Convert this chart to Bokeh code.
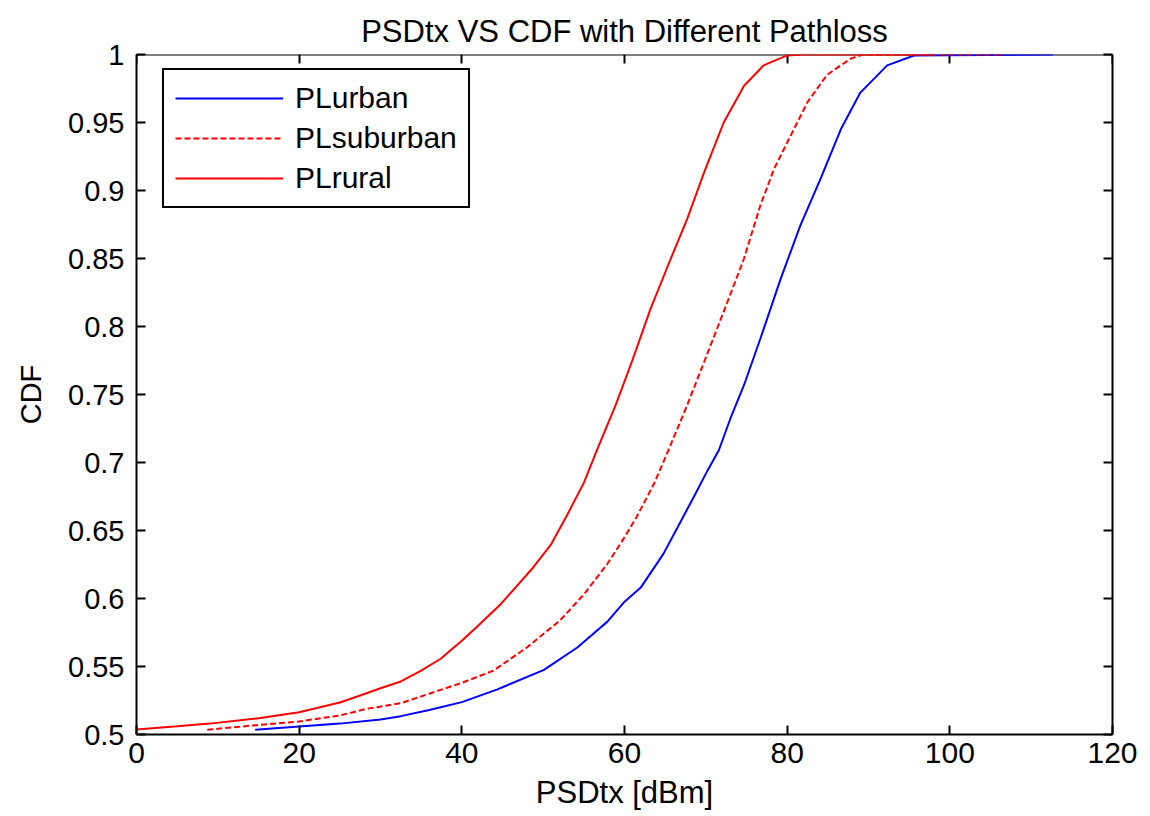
from bokeh.plotting import figure
from bokeh.models import Range1d, LinearAxis, FixedTicker, Legend, LegendItem, CustomJSTickFormatter
from bokeh.embed import file_html
from bokeh.resources import INLINE

# ---- data ----
urban_x = [14.6, 20, 25, 30, 32.5, 36, 40, 44.3, 50.1, 54.2, 57.9, 59.9, 62, 64.8, 66.5, 68.5,
           70.2, 71.6, 73.0, 74.7, 76.7, 79.2, 81.6, 84.1, 86.6, 89.0, 92.3, 95.6, 112.7]
urban_y = [0.5035, 0.5059, 0.508, 0.511, 0.5135, 0.518, 0.5238, 0.533, 0.5475, 0.564, 0.583, 0.597,
           0.608, 0.633, 0.652, 0.6745, 0.694, 0.709, 0.732, 0.757, 0.791, 0.835, 0.874, 0.9085,
           0.945, 0.972, 0.992, 0.9993, 1.0]

suburban_x = [8.7, 15, 20, 25, 28.4, 32.5, 36, 40, 43.9, 48, 52.1, 55, 57.9, 59.9, 61.5, 63.6, 65.4,
              67.7, 69.8, 72.2, 74.7, 76.7, 78.4, 80.4, 82.5, 84.9, 87.8, 89.4, 106.6]
suburban_y = [0.5035, 0.507, 0.5096, 0.514, 0.519, 0.523, 0.530, 0.538, 0.547, 0.564, 0.584, 0.603,
              0.6255, 0.644, 0.660, 0.684, 0.709, 0.742, 0.774, 0.811, 0.850, 0.889, 0.916, 0.940,
              0.965, 0.985, 0.997, 1.0, 1.0]

rural_x = [0, 5, 9, 15, 20, 25, 27.5, 30, 32.5, 35, 37.4, 40, 42, 44.8, 48.8, 51, 53, 55, 56.6, 58.9,
           60.9, 63.2, 65.7, 67.7, 69.8, 72.2, 74.7, 77.1, 80, 82, 98]
rural_y = [0.5037, 0.506, 0.508, 0.512, 0.5164, 0.5235, 0.5287, 0.534, 0.539, 0.547, 0.5557, 0.569,
           0.58, 0.596, 0.623, 0.64, 0.662, 0.685, 0.709, 0.742, 0.774, 0.813, 0.850, 0.879, 0.9135,
           0.95, 0.977, 0.992, 0.9993, 1.0, 1.0]

series_names = ["PLurban", "PLsuburban", "PLrural"]
x_ticks = [0, 20, 40, 60, 80, 100, 120]
y_ticks = [0.5, 0.55, 0.6, 0.65, 0.7, 0.75, 0.8, 0.85, 0.9, 0.95, 1.0]
y_tick_labels = ["0.5", "0.55", "0.6", "0.65", "0.7", "0.75", "0.8", "0.85", "0.9", "0.95", "1"]

FONT = "Liberation Sans"
BLACK = "#000000"

p = figure(width=1150, height=816, output_backend="svg", toolbar_location=None,
           x_range=Range1d(0, 120), y_range=Range1d(0.5, 1.0),
           min_border_left=136, min_border_right=38, min_border_top=54, min_border_bottom=82,
           title="PSDtx VS CDF with Different Pathloss")
p.title.align = "center"
p.title.text_font = FONT
p.title.text_font_size = "31px"
p.title.text_font_style = "normal"
p.title.text_color = BLACK
p.title.offset = 0
p.title.standoff = 12
p.grid.visible = False
p.outline_line_color = None
p.background_fill_color = "white"
p.border_fill_color = "white"

r_urban = p.line(urban_x, urban_y, line_color="#0000ff", line_width=2)
r_sub = p.line(suburban_x, suburban_y, line_color="#ff0000", line_width=2, line_dash="6 3")
r_rural = p.line(rural_x, rural_y, line_color="#ff0000", line_width=2)


def style_axis(ax, ticks):
    ax.ticker = FixedTicker(ticks=ticks)
    ax.axis_line_width = 2
    ax.axis_line_color = BLACK
    ax.major_tick_line_width = 2
    ax.major_tick_line_color = BLACK
    ax.major_tick_in = 9
    ax.major_tick_out = 0
    ax.minor_tick_line_color = None
    ax.major_label_text_font = FONT
    ax.major_label_text_color = BLACK
    ax.axis_label_text_font = FONT
    ax.axis_label_text_color = BLACK
    ax.axis_label_text_font_style = "normal"


xa = p.xaxis[0]
style_axis(xa, x_ticks)
xa.axis_label = "PSDtx [dBm]"
xa.axis_label_text_font_size = "31px"
xa.axis_label_standoff = 9
xa.major_label_text_font_size = "30px"
xa.major_label_standoff = 8

ya = p.yaxis[0]
style_axis(ya, y_ticks)
ya.axis_label = "CDF"
ya.axis_label_text_font_size = "29px"
ya.axis_label_standoff = 18
ya.major_label_text_font_size = "29px"
ya.major_label_standoff = 12
ya.major_label_overrides = {t: s for t, s in zip(y_ticks, y_tick_labels)}

blank = CustomJSTickFormatter(code="return ''")
top = LinearAxis(formatter=blank)
style_axis(top, x_ticks)
top.major_label_text_font_size = "1px"
top.level = "underlay"
right = LinearAxis(formatter=blank)
style_axis(right, y_ticks)
right.major_label_text_font_size = "1px"
p.add_layout(top, "above")
p.add_layout(right, "right")

legend = Legend(items=[LegendItem(label=series_names[0], renderers=[r_urban]),
                       LegendItem(label=series_names[1], renderers=[r_sub]),
                       LegendItem(label=series_names[2], renderers=[r_rural])],
                location=(26, 526), orientation="vertical")
legend.label_text_font = FONT
legend.label_text_font_size = "30px"
legend.label_text_color = BLACK
legend.label_height = 34
legend.glyph_height = 34
legend.glyph_width = 108
legend.label_standoff = 12
legend.spacing = 6
legend.padding = 11
legend.margin = 0
legend.border_line_color = BLACK
legend.border_line_alpha = 1.0
legend.border_line_width = 2
legend.background_fill_color = "white"
legend.background_fill_alpha = 1.0
p.add_layout(legend, "center")

open("out.html", "w").write(file_html(p, INLINE))
